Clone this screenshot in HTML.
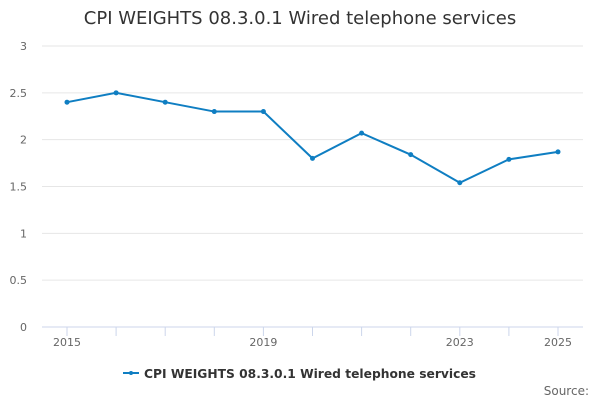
<!DOCTYPE html>
<html><head><meta charset="utf-8"><style>
body{margin:0;background:#fff;}
svg{display:block;font-family:"DejaVu Sans","Liberation Sans",sans-serif;}
</style></head><body>
<svg width="600" height="400">
<text x="300" y="24" text-anchor="middle" font-size="18" fill="#333">CPI WEIGHTS 08.3.0.1 Wired telephone services</text>
<g id="grid"></g><g id="xaxis"></g><g id="series"></g>
<g>
<line x1="123" y1="373" x2="139" y2="373" stroke="#0f7ec2" stroke-width="2"/>
<circle cx="131" cy="373" r="2" fill="#0f7ec2"/>
<text x="144" y="378" font-size="12" font-weight="bold" fill="#333" textLength="332" lengthAdjust="spacingAndGlyphs">CPI WEIGHTS 08.3.0.1 Wired telephone services</text>
</g>
<text x="589" y="395" text-anchor="end" font-size="12" fill="#666">Source:</text>
</svg>
<script>
const years=[2015,2016,2017,2018,2019,2020,2021,2022,2023,2024,2025];
const values=[2.4,2.5,2.4,2.3,2.3,1.8,2.07,1.84,1.54,1.79,1.87];
const yTicks=[0,0.5,1,1.5,2,2.5,3];
const xLabels=[2015,2019,2023,2025];
const NS="http://www.w3.org/2000/svg";
const x=v=>67+(v-2015)*49.1;
const y=v=>327-v*93.67;
function mk(t,a,p){const e=document.createElementNS(NS,t);for(const k in a)e.setAttribute(k,a[k]);p.appendChild(e);return e;}
const g=document.getElementById('grid');
yTicks.forEach(t=>{
 const l=mk('line',{x1:42,x2:583,y1:y(t),y2:y(t),stroke:t===0?'#ccd6eb':'#e6e6e6','stroke-width':1},g);
 
 
 const tx=mk('text',{x:27,y:y(t)+4,'text-anchor':'end','font-size':11,fill:'#666'},g);
 tx.textContent=t;
 
 
});
const xa=document.getElementById('xaxis');
years.forEach(yr=>{
 const l=mk('line',{x1:x(yr),x2:x(yr),y1:327,y2:336,stroke:'#ccd6eb'},xa);
 
 
});
xLabels.forEach(yr=>{
 const t=mk('text',{x:x(yr),y:346,'text-anchor':'middle','font-size':11,fill:'#666'},xa);
 t.textContent=yr;
 
 
});
const s=document.getElementById('series');
const p=mk('polyline',{points:years.map((yr,i)=>x(yr)+','+y(values[i])).join(' '),fill:'none',stroke:'#0f7ec2','stroke-width':2},s);


years.forEach((yr,i)=>{
 const c=mk('circle',{cx:x(yr),cy:y(values[i]),r:2.5,fill:'#0f7ec2'},s);
 
 
});
</script>
</body></html>
